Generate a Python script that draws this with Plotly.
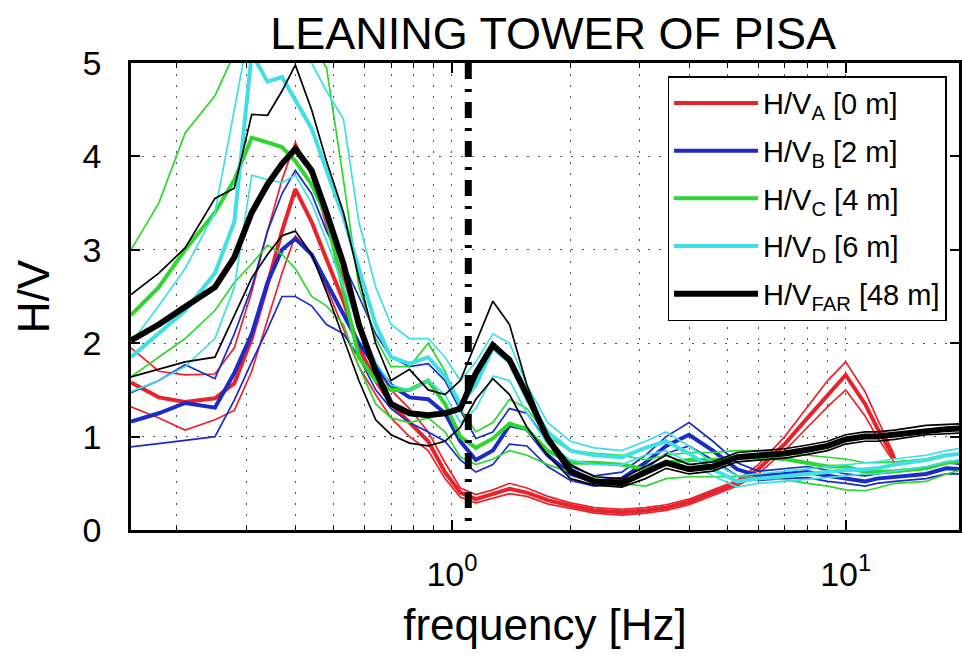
import math
import plotly.graph_objects as go

# ---------------- data ----------------
freq = [0.153, 0.18, 0.21, 0.25, 0.28, 0.31, 0.34, 0.37, 0.40, 0.44,
        0.48, 0.53, 0.58, 0.64, 0.70, 0.78, 0.87, 0.96, 1.05, 1.15,
        1.27, 1.40, 1.55, 1.75, 2.0, 2.3, 2.7, 3.1, 3.5, 4.0,
        4.6, 5.3, 6.0, 7.0, 8.0, 9.0, 10.0, 11.2, 12.0, 13.3,
        16.0, 18.0, 20.0]

hv_a_mean = [1.58, 1.42, 1.37, 1.41, 1.57, 2.05, 2.63, 3.2, 3.65, 3.3,
             2.9, 2.45, 1.95, 1.6, 1.35, 1.15, 0.95, 0.62, 0.4, 0.33,
             0.38, 0.44, 0.4, 0.32, 0.26, 0.21, 0.19, 0.21, 0.24, 0.3,
             0.4, 0.5, 0.65, 0.92, 1.2, 1.45, 1.66, 1.35, 1.1, 0.76,
             None, None, None]
hv_a_up = [1.95, 1.7, 1.66, 1.67, 1.95, 2.55, 3.2, 3.75, 4.15, 3.8,
           3.25, 2.7, 2.15, 1.75, 1.5, 1.3, 1.05, 0.72, 0.45, 0.38,
           0.43, 0.5, 0.45, 0.36, 0.29, 0.24, 0.22, 0.24, 0.27, 0.33,
           0.43, 0.53, 0.7, 1.0, 1.32, 1.6, 1.8, 1.48, 1.2, 0.8,
           None, None, None]
hv_a_lo = [1.32, 1.2, 1.07, 1.18, 1.28, 1.7, 2.25, 2.75, 3.15, 2.95,
           2.6, 2.15, 1.75, 1.45, 1.2, 1.0, 0.85, 0.55, 0.35, 0.29,
           0.34, 0.39, 0.36, 0.28, 0.23, 0.18, 0.16, 0.18, 0.21, 0.27,
           0.37, 0.47, 0.6, 0.85, 1.1, 1.32, 1.5, 1.22, 1.0, 0.72,
           None, None, None]

hv_b_mean = [1.16, 1.25, 1.36, 1.31, 1.68, 2.1, 2.65, 3.0, 3.12, 2.95,
             2.65, 2.3, 2.0, 1.75, 1.55, 1.42, 1.4, 1.25, 0.95, 0.75,
             0.85, 1.12, 1.08, 0.8, 0.6, 0.52, 0.55, 0.72, 0.9, 1.02,
             0.85, 0.65, 0.58, 0.6, 0.62, 0.58, 0.55, 0.52, 0.55, 0.57,
             0.6, 0.66, 0.65]
hv_b_up = [1.47, 1.6, 1.77, 1.62, 2.1, 2.6, 3.2, 3.6, 3.85, 3.6,
           3.2, 2.85, 2.5, 2.1, 1.85, 1.75, 1.78, 1.6, 1.28, 0.98,
           1.05, 1.3, 1.25, 0.95, 0.68, 0.58, 0.62, 0.8, 1.0, 1.15,
           0.95, 0.72, 0.63, 0.66, 0.68, 0.64, 0.6, 0.58, 0.6, 0.62,
           0.66, 0.72, 0.7]
hv_b_lo = [0.89, 0.93, 0.96, 1.0, 1.39, 1.8, 2.15, 2.5, 2.5, 2.4,
           2.2, 2.1, 1.85, 1.5, 1.3, 1.15, 1.05, 0.95, 0.75, 0.62,
           0.7, 0.92, 0.9, 0.68, 0.53, 0.47, 0.5, 0.65, 0.82, 0.9,
           0.75, 0.58, 0.53, 0.55, 0.56, 0.52, 0.5, 0.47, 0.5, 0.52,
           0.55, 0.6, 0.6]

hv_c_mean = [2.3, 2.6, 3.0, 3.4, 3.75, 4.2, 4.15, 4.1, 3.95, 3.7,
             3.35, 2.55, 1.85, 1.6, 1.5, 1.5, 1.6, 1.35, 1.0, 0.88,
             0.98, 1.14, 1.08, 0.85, 0.72, 0.72, 0.7, 0.65, 0.72, 0.75,
             0.75, 0.78, 0.78, 0.76, 0.72, 0.68, 0.68, 0.62, 0.62, 0.63,
             0.66, 0.72, 0.74]
hv_c_up = [3.0, 3.5, 4.25, 4.65, 5.1, 5.4, 5.5, 5.5, 5.3, 5.2,
           4.95, 3.75, 2.6, 2.05, 1.75, 1.75, 2.0, 1.7, 1.3, 1.05,
           1.15, 1.4, 1.3, 1.0, 0.85, 0.82, 0.8, 0.75, 0.8, 0.83,
           0.83, 0.85, 0.85, 0.83, 0.8, 0.78, 0.76, 0.72, 0.72, 0.73,
           0.76, 0.8, 0.82]
hv_c_lo = [1.64, 1.85, 2.05, 2.35, 2.65, 2.85, 3.05, 2.95, 2.8, 2.5,
           2.4, 2.2, 1.75, 1.35, 1.2, 1.15, 1.2, 1.05, 0.78, 0.7,
           0.76, 0.85, 0.8, 0.7, 0.62, 0.55, 0.5, 0.47, 0.55, 0.57,
           0.57, 0.57, 0.56, 0.54, 0.5, 0.47, 0.43, 0.42, 0.45, 0.5,
           0.52, 0.6, 0.65]

hv_d_mean = [1.85, 2.1, 2.35, 2.75, 3.3, 5.1, 4.8, 4.85, 4.6, 4.3,
             3.85, 3.35, 2.8, 2.2, 1.85, 1.78, 1.85, 1.65, 1.35, 1.55,
             1.95, 1.8, 1.4, 1.05, 0.85, 0.8, 0.78, 0.88, 0.95, 0.82,
             0.65, 0.52, 0.55, 0.58, 0.6, 0.62, 0.64, 0.65, 0.66, 0.7,
             0.75, 0.8, 0.82]
hv_d_up = [2.0, 2.4, 2.8, 3.4, 4.5, 5.5, 5.6, 5.5, 5.3, 5.0,
           4.7, 4.4, 3.3, 2.6, 2.2, 2.05, 2.05, 1.85, 1.6, 1.8,
           2.1, 2.0, 1.55, 1.15, 0.95, 0.88, 0.85, 0.95, 1.05, 0.9,
           0.72, 0.58, 0.6, 0.63, 0.66, 0.68, 0.7, 0.72, 0.73, 0.76,
           0.8, 0.85, 0.88]
hv_d_lo = [1.48, 1.6, 1.75, 2.05, 2.6, 3.8, 3.75, 3.72, 3.8, 3.5,
           3.1, 2.6, 2.2, 1.8, 1.55, 1.5, 1.6, 1.45, 1.15, 1.3,
           1.65, 1.6, 1.25, 0.92, 0.75, 0.7, 0.7, 0.8, 0.85, 0.72,
           0.58, 0.46, 0.5, 0.52, 0.54, 0.56, 0.58, 0.6, 0.6, 0.63,
           0.68, 0.73, 0.76]

hv_far_mean = [2.03, 2.2, 2.39, 2.6, 2.92, 3.4, 3.7, 3.92, 4.08, 3.85,
               3.4, 2.85, 2.2, 1.7, 1.35, 1.25, 1.23, 1.25, 1.3, 1.68,
               1.98, 1.82, 1.45, 0.98, 0.63, 0.52, 0.5, 0.62, 0.72, 0.65,
               0.68, 0.78, 0.8, 0.82, 0.86, 0.9, 0.97, 1.0, 1.0, 1.02,
               1.07, 1.08, 1.09]
hv_far_up = [2.52, 2.75, 3.02, 3.55, 3.66, 4.45, 4.44, 4.7, 4.98, 4.5,
             3.95, 3.4, 2.7, 2.0, 1.6, 1.72, 1.5, 1.45, 1.6, 2.0,
             2.45, 2.2, 1.55, 1.0, 0.7, 0.57, 0.55, 0.68, 0.8, 0.7,
             0.73, 0.83, 0.85, 0.87, 0.91, 0.95, 1.02, 1.05, 1.05, 1.07,
             1.12, 1.13, 1.14]
hv_far_lo = [1.64, 1.72, 1.8, 1.85, 2.3, 2.7, 2.95, 3.15, 3.2, 2.95,
             2.55, 2.05, 1.6, 1.18, 1.02, 0.93, 0.9, 0.95, 1.1, 1.4,
             1.62, 1.45, 1.1, 0.8, 0.55, 0.48, 0.46, 0.55, 0.66, 0.6,
             0.63, 0.73, 0.75, 0.77, 0.81, 0.85, 0.92, 0.95, 0.95, 0.97,
             1.02, 1.03, 1.04]

series_keys = ["A", "B", "C", "D", "FAR"]
series_depths = ["0 m", "2 m", "4 m", "6 m", "48 m"]
series_colors = ["#e8232b", "#1a2bc8", "#2fd62f", "#3fdfe6", "#000000"]
series_means = [hv_a_mean, hv_b_mean, hv_c_mean, hv_d_mean, hv_far_mean]
series_ups = [hv_a_up, hv_b_up, hv_c_up, hv_d_up, hv_far_up]
series_los = [hv_a_lo, hv_b_lo, hv_c_lo, hv_d_lo, hv_far_lo]
mean_widths = [4, 4, 4, 4, 6]

vline_freq = 1.1
y_ticks = [0, 1, 2, 3, 4, 5]
x_major = [1, 10]
x_major_text = ["10<sup>0</sup>", "10<sup>1</sup>"]
x_minor = [0.2, 0.3, 0.4, 0.5, 0.6, 0.7, 0.8, 0.9,
           2, 3, 4, 5, 6, 7, 8, 9, 20]

# ---------------- figure ----------------
FONT = "Liberation Sans, Arial, Helvetica, sans-serif"
fig = go.Figure()

for key, depth, color, mean, up, lo, w in zip(series_keys, series_depths, series_colors,
                                             series_means, series_ups, series_los, mean_widths):
    for arr in (up, lo):
        fig.add_trace(go.Scatter(x=freq, y=arr, mode="lines",
                                 line=dict(color=color, width=1.7),
                                 legendgroup=key, showlegend=False, hoverinfo="skip"))
    fig.add_trace(go.Scatter(x=freq, y=mean, mode="lines",
                             line=dict(color=color, width=w),
                             legendgroup=key,
                             name="H/V<sub>%s</sub> [%s]" % (key, depth)))

fig.add_trace(go.Scatter(x=[vline_freq, vline_freq], y=[5, 0], mode="lines",
                         line=dict(color="black", width=7, dash="16px,10px,3px,10px"),
                         showlegend=False, hoverinfo="skip"))

grid_col = "#555555"
grid_dash = "2px,9px"

fig.update_layout(
    width=962, height=660,
    margin=dict(l=131, r=0, t=63, b=130),
    plot_bgcolor="white", paper_bgcolor="white",
    font=dict(family=FONT, color="black"),
    title=dict(text="LEANING TOWER OF PISA", x=0.575, xanchor="center",
               y=1 - 33 / 660, yanchor="middle", font=dict(size=45)),
    legend=dict(x=0.648, y=0.972, xanchor="left", yanchor="top",
                bordercolor="black", borderwidth=1.5, bgcolor="white",
                font=dict(size=29), tracegroupgap=7, itemwidth=84),
    xaxis=dict(type="log", range=[math.log10(0.153), math.log10(19.4)],
               tickmode="array", tickvals=x_major, ticktext=x_major_text,
               ticks="inside", ticklen=10, tickwidth=1.5, tickcolor="black",
               showline=True, linecolor="black", linewidth=2.5, mirror="allticks",
               showgrid=True, gridcolor=grid_col, griddash=grid_dash, gridwidth=1.3,
               zeroline=False, tickfont=dict(size=34), ticklabelstandoff=12,
               title=dict(text="frequency [Hz]", font=dict(size=44), standoff=18),
               minor=dict(tickmode="array", tickvals=x_minor, ticks="inside", ticklen=5,
                          tickcolor="black", tickwidth=1.2,
                          showgrid=True, gridcolor=grid_col, griddash=grid_dash, gridwidth=1.3)),
    yaxis=dict(range=[0, 5], tickmode="array", tickvals=y_ticks,
               ticks="inside", ticklen=9, tickwidth=1.5, tickcolor="black",
               showline=True, linecolor="black", linewidth=2.5, mirror="allticks",
               showgrid=True, gridcolor=grid_col, griddash=grid_dash, gridwidth=1.3,
               zeroline=False, tickfont=dict(size=34), ticklabelstandoff=20,
               title=dict(text="H/V", font=dict(size=44), standoff=20)),
)

fig.write_html("out.html")
